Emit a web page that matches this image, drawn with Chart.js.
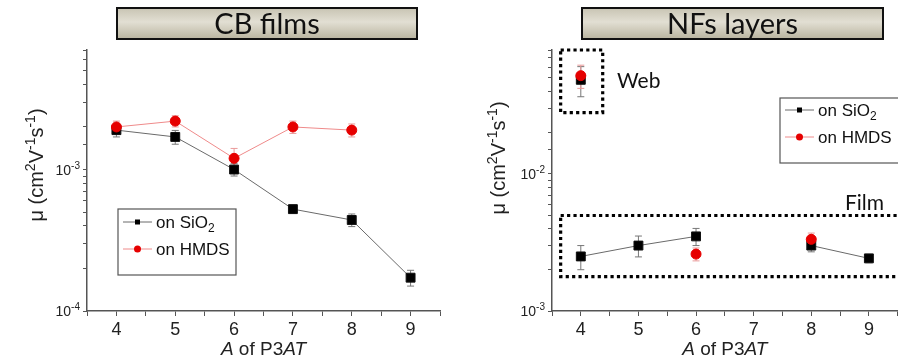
<!DOCTYPE html>
<html>
<head>
<meta charset="utf-8">
<script src="https://cdn.jsdelivr.net/npm/chart.js@4.4.1/dist/chart.umd.min.js"></script>
<style>
  body { margin: 0; background: #fff; overflow: hidden; }
  #wrap { position: relative; width: 898px; height: 363px; overflow: hidden; }
  #cb { position: absolute; left: 0; top: 0; }
  #nf { position: absolute; left: 449px; top: 0; }
</style>
</head>
<body>
<div id="wrap">
  <canvas id="cb" width="449" height="363"></canvas>
  <canvas id="nf" width="456" height="363"></canvas>
</div>
<script>
// A of P3AT (alkyl chain length)
var aValues = [4, 5, 6, 7, 8, 9];

// CB films, mobility in cm2/Vs
var cbSiO2 = [1.9e-3, 1.7e-3, 1.0e-3, 5.25e-4, 4.4e-4, 1.72e-4];
var cbSiO2Err = [0.2e-3, 0.19e-3, 0.1e-3, 0.035e-3, 0.045e-3, 0.022e-3];
var cbHMDS = [2.0e-3, 2.2e-3, 1.2e-3, 2.0e-3, 1.9e-3, null];
var cbHMDSErr = [0.2e-3, 0.2e-3, 0.21e-3, 0.2e-3, 0.2e-3, null];

// NFs layers: web (A = 4 only) and film
var webA = [4];
var nfWebSiO2 = [4.85e-2];
var nfWebSiO2Err = [1.2e-2];
var nfWebHMDS = [5.2e-2];
var nfWebHMDSErr = [1.0e-2];
var nfFilmSiO2 = [2.5e-3, 3.0e-3, 3.5e-3, null, 3.0e-3, 2.42e-3];
var nfFilmSiO2Err = [0.5e-3, 0.52e-3, 0.5e-3, null, 0.3e-3, 0.17e-3];
var nfFilmHMDS = [null, null, 2.6e-3, null, 3.33e-3, null];
var nfFilmHMDSErr = [null, null, 0.28e-3, null, 0.37e-3, null];

var SANS = '"Liberation Sans", Arial, sans-serif';
var TITLE_FONT = 'Lato, "Open Sans", sans-serif';

function pairs(xs, ys) {
  return xs.map(function(x, i) { return { x: x, y: ys[i] }; });
}

function runFont(r, size, family) {
  var s = (r.sup || r.sub) ? Math.round(size * 0.68) : size;
  return (r.italic ? 'italic ' : '') + s + 'px ' + family;
}

function drawRich(ctx, runs, x, y, size, family, align) {
  var w = 0;
  runs.forEach(function(r) {
    ctx.font = runFont(r, size, family);
    w += ctx.measureText(r.t).width;
  });
  var cx = align === 'center' ? x - w / 2 : (align === 'right' ? x - w : x);
  ctx.textAlign = 'left';
  ctx.textBaseline = 'alphabetic';
  runs.forEach(function(r) {
    ctx.font = runFont(r, size, family);
    var dy = r.sup ? -size * 0.42 : (r.sub ? size * 0.25 : 0);
    ctx.fillText(r.t, cx, y + dy);
    cx += ctx.measureText(r.t).width;
  });
}

var siO2Style = {
  borderColor: '#6a6a6a', backgroundColor: '#000', pointStyle: 'rect',
  pointRadius: 6.3, pointBorderColor: '#111', pointBorderWidth: 1,
  borderWidth: 1, errColor: '#777', order: 1
};
var hmdsStyle = {
  borderColor: '#ef8a8a', backgroundColor: '#e60000', pointStyle: 'circle',
  pointRadius: 5, pointBorderColor: '#e60000', pointBorderWidth: 1,
  borderWidth: 1, errColor: '#ea9a9a', order: 0
};

function series(label, xs, ys, errs, style, inLegend, legendRuns) {
  var ds = Object.assign({}, style);
  ds.label = label;
  ds.data = pairs(xs, ys);
  ds.errors = errs;
  ds.inLegend = inLegend;
  ds.legendRuns = legendRuns;
  ds.spanGaps = false;
  ds.pointHoverRadius = style.pointRadius;
  return ds;
}

var siLegend = [{ t: 'on SiO' }, { t: '2', sub: true }];
var hmLegend = [{ t: 'on HMDS' }];

var extras = {
  id: 'extras',
  beforeDatasetsDraw: function(chart) {
    var ctx = chart.ctx, xs = chart.scales.x, ys = chart.scales.y;
    ctx.save();
    chart.data.datasets.forEach(function(ds) {
      ctx.strokeStyle = ds.errColor;
      ctx.lineWidth = 1;
      ds.data.forEach(function(p, i) {
        var e = ds.errors[i];
        if (p.y == null || e == null) return;
        var px = xs.getPixelForValue(p.x);
        var top = ys.getPixelForValue(p.y + e);
        var bot = ys.getPixelForValue(p.y - e);
        ctx.beginPath();
        ctx.moveTo(px, top); ctx.lineTo(px, bot);
        ctx.moveTo(px - 3.5, top); ctx.lineTo(px + 3.5, top);
        ctx.moveTo(px - 3.5, bot); ctx.lineTo(px + 3.5, bot);
        ctx.stroke();
      });
    });
    ctx.restore();
  },
  afterDraw: function(chart, args, o) {
    var ctx = chart.ctx, xs = chart.scales.x, ys = chart.scales.y, ca = chart.chartArea;
    ctx.save();

    // panel title box
    var tb = o.titleBox;
    var g = ctx.createLinearGradient(0, tb.y, 0, tb.y + tb.h);
    g.addColorStop(0, '#c8c4b3');
    g.addColorStop(0.45, '#e2dfd3');
    g.addColorStop(1, '#b9b49f');
    ctx.fillStyle = g;
    ctx.fillRect(tb.x, tb.y, tb.w, tb.h);
    ctx.strokeStyle = '#111';
    ctx.lineWidth = 2;
    ctx.strokeRect(tb.x, tb.y, tb.w, tb.h);
    ctx.fillStyle = '#111';
    ctx.font = '29px ' + TITLE_FONT;
    ctx.textAlign = 'center';
    ctx.textBaseline = 'middle';
    ctx.fillText(tb.text, tb.x + tb.w / 2, tb.y + tb.h / 2 + 1);

    // dotted group boxes
    ctx.strokeStyle = '#000';
    ctx.lineWidth = 3.2;
    ctx.setLineDash([3.2, 3.2]);
    (o.groups || []).forEach(function(b) {
      var x0 = xs.getPixelForValue(b.x0), x1 = xs.getPixelForValue(b.x1);
      var y0 = ys.getPixelForValue(b.y1), y1 = ys.getPixelForValue(b.y0);
      ctx.strokeRect(x0, y0, x1 - x0, y1 - y0);
    });
    ctx.setLineDash([]);
    ctx.fillStyle = '#111';
    ctx.font = '21px ' + TITLE_FONT;
    ctx.textAlign = 'left';
    ctx.textBaseline = 'alphabetic';
    (o.notes || []).forEach(function(n) { ctx.fillText(n.text, n.x, n.y); });

    // y tick labels (powers of ten only)
    ctx.fillStyle = '#222';
    ys.ticks.forEach(function(t) {
      var lg = Math.log10(t.value);
      if (Math.abs(lg - Math.round(lg)) > 1e-6) return;
      var py = ys.getPixelForValue(t.value);
      drawRich(ctx, [{ t: '10' }, { t: String(Math.round(lg)), sup: true }],
        ca.left - 7, py + 5, 14, SANS, 'right');
    });

    // axis titles
    ctx.fillStyle = '#222';
    drawRich(ctx, [{ t: 'A', italic: true }, { t: ' of P3' }, { t: 'AT', italic: true }],
      (ca.left + Math.min(ca.right, o.xTitleRight || ca.right)) / 2, o.xTitleY, 19, SANS, 'center');
    ctx.save();
    ctx.translate(o.yTitle.x, o.yTitle.y);
    ctx.rotate(-Math.PI / 2);
    drawRich(ctx, [{ t: 'μ (cm' }, { t: '2', sup: true }, { t: 'V' }, { t: '-1', sup: true },
      { t: 's' }, { t: '-1', sup: true }, { t: ')' }], 0, 7, 20, SANS, 'center');
    ctx.restore();

    // legend
    var lb = o.legend;
    ctx.fillStyle = '#fff';
    ctx.fillRect(lb.x, lb.y, lb.w, lb.h);
    ctx.strokeStyle = '#555';
    ctx.lineWidth = 1.2;
    ctx.strokeRect(lb.x, lb.y, lb.w, lb.h);
    var row = 0;
    chart.data.datasets.forEach(function(ds) {
      if (!ds.inLegend) return;
      var cy = lb.y + lb.firstRow + row * lb.rowGap;
      var lx = lb.x + 5;
      ctx.strokeStyle = ds.borderColor;
      ctx.lineWidth = 1;
      ctx.beginPath();
      ctx.moveTo(lx, cy); ctx.lineTo(lx + 29, cy);
      ctx.stroke();
      ctx.fillStyle = ds.backgroundColor;
      if (ds.pointStyle === 'rect') {
        ctx.fillRect(lx + 12, cy - 2.5, 5, 5);
      } else {
        ctx.beginPath();
        ctx.arc(lx + 14.5, cy, 3.5, 0, Math.PI * 2);
        ctx.fill();
      }
      ctx.fillStyle = '#111';
      drawRich(ctx, ds.legendRuns, lx + 33, cy + 6, 17, SANS, 'left');
      row++;
    });
    ctx.restore();
  }
};

function makeChart(id, datasets, yMin, yMax, padRight, yWidth, plugOpts) {
  return new Chart(document.getElementById(id), {
    type: 'line',
    data: { datasets: datasets },
    options: {
      responsive: false,
      animation: false,
      events: [],
      layout: { padding: { left: 0, right: padRight, top: 50, bottom: 0 } },
      scales: {
        x: {
          type: 'linear', min: 3.5, max: 9.5,
          border: { color: '#555', width: 1.5 },
          grid: { drawOnChartArea: false, tickLength: 5, color: '#555' },
          ticks: {
            stepSize: 0.5, autoSkip: false, maxRotation: 0, padding: 3,
            color: '#222', font: { size: 18, family: SANS },
            callback: function(v) { return Number.isInteger(v) ? String(v) : ''; }
          },
          afterFit: function(s) { s.height = 52; }
        },
        y: {
          type: 'logarithmic', min: yMin, max: yMax,
          border: { color: '#555', width: 1.5 },
          grid: { drawOnChartArea: false, tickLength: 4, color: '#555' },
          ticks: { display: false },
          afterFit: function(s) { s.width = yWidth; }
        }
      },
      plugins: {
        legend: { display: false },
        tooltip: { enabled: false },
        extras: plugOpts
      }
    },
    plugins: [extras]
  });
}

makeChart('cb', [
  series('on SiO2', aValues, cbSiO2, cbSiO2Err, siO2Style, true, siLegend),
  series('on HMDS', aValues, cbHMDS, cbHMDSErr, hmdsStyle, true, hmLegend)
], 1e-4, 7e-3, 9, 87, {
  titleBox: { x: 117, y: 8, w: 300, h: 31, text: 'CB films' },
  legend: { x: 118, y: 209, w: 118, h: 66, firstRow: 13, rowGap: 27 },
  yTitle: { x: 36, y: 165 },
  xTitleY: 355
});

makeChart('nf', [
  series('on SiO2', aValues, nfFilmSiO2, nfFilmSiO2Err, siO2Style, true, siLegend),
  series('on HMDS', aValues, nfFilmHMDS, nfFilmHMDSErr, hmdsStyle, true, hmLegend),
  series('web on SiO2', webA, nfWebSiO2, nfWebSiO2Err, siO2Style, false, null),
  series('web on HMDS', webA, nfWebHMDS, nfWebHMDSErr, hmdsStyle, false, null)
], 1e-3, 8e-2, 0, 103, {
  titleBox: { x: 133, y: 8, w: 301, h: 31, text: 'NFs layers' },
  legend: { x: 331, y: 98, w: 120, h: 65, firstRow: 12, rowGap: 27 },
  groups: [
    { x0: 3.65, x1: 4.38, y0: 2.8e-2, y1: 8e-2 },
    { x0: 3.65, x1: 9.8, y0: 1.78e-3, y1: 4.97e-3 }
  ],
  notes: [{ text: 'Web', x: 168, y: 88 }, { text: 'Film', x: 396, y: 210 }],
  yTitle: { x: 49, y: 158 },
  xTitleY: 355
});
</script>
</body>
</html>
